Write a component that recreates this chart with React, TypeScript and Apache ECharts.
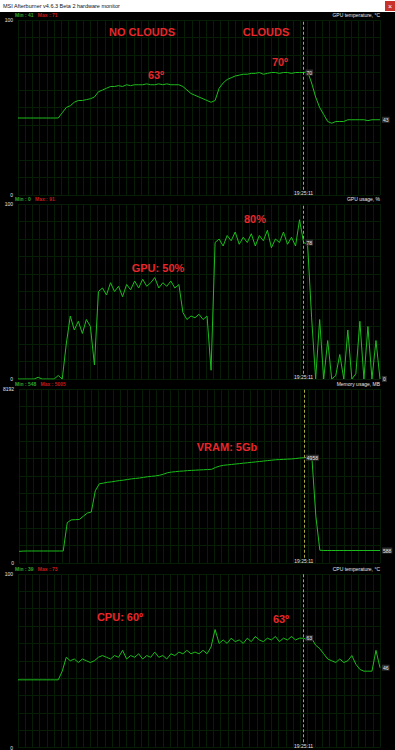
import React, { useEffect, useRef } from "react";
import * as echarts from "echarts";

// ---- data (one sample every ~4 px of the original monitor strip) ----
const gpuTemp = [
  44, 44, 44, 44, 44, 44, 44, 44, 44, 44, 44,
  47, 50, 51, 53, 54, 54, 54.5, 55, 56, 59,
  60, 61, 62, 62, 62.5, 62, 63, 62.5, 63, 63,
  63, 63.5, 63, 63, 63.5, 63, 63.5, 63, 63, 63,
  62, 60, 58, 57, 56, 55, 54, 53, 54, 61,
  64, 66, 67, 68, 68.5, 69, 69, 69.5, 69.5, 70,
  69, 69.5, 70, 70, 69.5, 70, 70, 69.5, 70, 70,
  70, 70.5, 64, 56, 50, 46, 42, 41, 42, 42,
  42, 43, 43, 43, 43, 43, 42.5, 43, 43, 43,
];
const gpuUsage = [
  0, 0, 0, 0, 0, 1, 0, 0, 0, 0, 2, 0,
  20, 36, 28, 33, 26, 34, 30, 8, 50,
  52, 48, 55, 50, 53, 47, 54, 51, 56, 52,
  57, 53, 55, 58, 52, 55, 53, 56, 52, 54,
  38, 34, 36, 35, 37, 34, 36, 5,
  78, 80, 76, 82, 79, 84, 77, 81, 78, 83, 76, 82,
  79, 85, 75, 80, 78, 84, 77, 81, 76, 91,
  78, 77, 35, 0, 34, 0, 22, 0, 2, 14,
  0, 28, 0, 3, 33, 0, 30, 0, 22, 0,
];
const memUsage = [
  548, 560, 565, 565, 565, 565, 565, 565, 565, 565, 565, 565,
  1900, 2030, 2040, 2050, 2200, 2350, 2400, 3400, 3730,
  3760, 3800, 3820, 3850, 3880, 3900, 3930, 3960, 3980, 4000,
  4030, 4060, 4080, 4100, 4130, 4180, 4250, 4280, 4300, 4320,
  4330, 4350, 4360, 4370, 4380, 4390, 4400, 4410, 4500, 4560,
  4600, 4620, 4640, 4660, 4680, 4700, 4720, 4740, 4760, 4780,
  4800, 4820, 4840, 4860, 4870, 4880, 4890, 4900, 4920, 4940,
  4958, 4980, 5005, 2200, 600, 588, 588, 588, 588, 588,
  588, 588, 588, 588, 588, 588, 588, 588, 588, 588,
];
const cpuTemp = [
  39, 39, 39, 39, 39, 39, 39, 39, 39, 39, 39,
  44, 52, 50, 51, 49, 51, 50, 49, 50, 52,
  53, 52, 51, 53, 52, 56, 51, 53, 52, 54,
  51, 53, 52, 55, 52, 53, 51, 54, 53, 55,
  54, 56, 54, 55, 54, 56, 54, 58, 68, 60,
  62, 60, 63, 61, 62, 60, 63, 61, 64, 62,
  61, 63, 62, 64, 61, 63, 62, 64, 62, 63,
  63, 62, 63, 59, 57, 54, 51, 50, 49, 51,
  49, 50, 53, 48, 45, 44, 44, 44, 56, 46,
];

const panelNames = ["GPU temperature, °C", "GPU usage, %", "Memory usage, MB", "CPU temperature, °C"];
const panelMins = [41, 0, 548, 39];
const panelMaxs = [71, 91, 5005, 73];
const axisMaxs = [100, 100, 8192, 100];
const seriesValues = [gpuTemp, gpuUsage, memUsage, cpuTemp];
const markerIndex = 71; // sample under the dashed time cursor
const markerTime = "19:25:11";
const windowTitle = "MSI Afterburner v4.6.3 Beta 2 hardware monitor";

const annotations = [
  { text: "NO CLOUDS", x: 142, y: 32 },
  { text: "CLOUDS", x: 266, y: 32 },
  { text: "63º", x: 156, y: 75 },
  { text: "70º", x: 280, y: 62 },
  { text: "80%", x: 255, y: 219 },
  { text: "GPU: 50%", x: 158, y: 268 },
  { text: "VRAM: 5Gb", x: 227, y: 447 },
  { text: "CPU: 60º", x: 120, y: 617 },
  { text: "63º", x: 281, y: 619 },
];

// ---- layout ----
const W = 395;
const H = 750;
const panelTops = [20, 204, 389, 574];
const panelHeights = [175, 175, 174, 174];
const FONT = "'Liberation Sans', Arial, sans-serif";
const GRID_COLOR = "#061d06";
const LINE_COLOR = "#1cbc1c";
const RED = "#e8262b";

export default function App() {
  const ref = useRef<HTMLDivElement>(null);

  useEffect(() => {
    if (!ref.current) return;
    const chart = echarts.init(ref.current, undefined, { renderer: "svg" });
    const last = gpuTemp.length - 1;

    const grid = panelTops.map((top, k) => ({
      left: 18,
      right: 15,
      top,
      height: panelHeights[k],
    }));

    const xAxis = panelTops.map((_, k) => ({
      type: "value",
      gridIndex: k,
      min: 0,
      max: last,
      interval: 1.8,
      axisLine: { show: false },
      axisTick: { show: false },
      axisLabel: { show: false },
      splitLine: { show: true, lineStyle: { color: GRID_COLOR, width: 1 } },
    }));

    const yAxis = axisMaxs.map((max, k) => ({
      type: "value",
      gridIndex: k,
      min: 0,
      max,
      interval: max / 10,
      axisLine: { show: false },
      axisTick: { show: false },
      splitLine: { show: true, lineStyle: { color: GRID_COLOR, width: 1 } },
      axisLabel: {
        color: "#e4e4e4",
        fontSize: 5,
        fontFamily: FONT,
        margin: 5,
        showMinLabel: true,
        showMaxLabel: true,
        formatter: (v: number) => (v === 0 ? "0" : Math.abs(v - max) < 1e-6 ? String(max) : ""),
      },
    }));

    const valueLabel = {
      show: true,
      position: "right",
      distance: 2,
      color: "#e8e8e8",
      backgroundColor: "#2e2e2e",
      padding: [1, 1, 0, 1],
      fontSize: 5,
      fontFamily: FONT,
      formatter: (p: any) => String(Math.round(p.value)),
    };

    const series = seriesValues.map((vals, k) => ({
      type: "line",
      xAxisIndex: k,
      yAxisIndex: k,
      data: vals.map((v, i) => [i, v]),
      showSymbol: false,
      symbol: "none",
      lineStyle: { color: LINE_COLOR, width: 1 },
      silent: true,
      markLine: {
        silent: true,
        symbol: ["none", "none"],
        lineStyle: { color: "#a8a83c", type: [3, 2], width: 1 },
        label: {
          show: true,
          position: "start",
          distance: 1,
          formatter: markerTime,
          color: "#e4e4e4",
          fontSize: 5,
          fontFamily: FONT,
        },
        data: [
          [
            { coord: [markerIndex, axisMaxs[k] * 0.03] },
            { coord: [markerIndex, axisMaxs[k]] },
          ],
        ],
      },
      markPoint: {
        silent: true,
        symbol: "circle",
        symbolSize: 0,
        label: valueLabel,
        data: [
          { coord: [markerIndex, vals[markerIndex]], value: vals[markerIndex] },
          { coord: [last, vals[last]], value: vals[last] },
        ],
      },
    }));

    const title: any[] = [];
    panelTops.forEach((top, k) => {
      title.push({
        left: 15,
        top: top - 8,
        padding: 0,
        text: `{g|Min : ${panelMins[k]}}   {r|Max : ${panelMaxs[k]}}`,
        textStyle: {
          fontSize: 5,
          fontFamily: FONT,
          rich: {
            g: { color: "#2fa82f", fontSize: 5, fontFamily: FONT },
            r: { color: "#c41a1a", fontSize: 5, fontFamily: FONT },
          },
        },
      });
      title.push({
        right: 15,
        top: top - 8,
        padding: 0,
        text: panelNames[k],
        textStyle: { color: "#e8e8e8", fontSize: 5, fontWeight: "normal", fontFamily: FONT },
      });
    });

    const graphic: any[] = [
      { type: "rect", shape: { x: 0, y: 0, width: W, height: 12 }, style: { fill: "#ffffff" } },
      {
        type: "text",
        x: 3,
        y: 6,
        style: {
          text: windowTitle,
          fill: "#111111",
          font: `5.5px ${FONT}`,
          verticalAlign: "middle",
          textVerticalAlign: "middle",
        },
      },
      { type: "rect", shape: { x: 385, y: 1, width: 10, height: 10 }, style: { fill: "#c8322a" } },
      {
        type: "text",
        x: 390,
        y: 6,
        style: {
          text: "×",
          fill: "#ffffff",
          font: `7px ${FONT}`,
          align: "center",
          textAlign: "center",
          verticalAlign: "middle",
          textVerticalAlign: "middle",
        },
      },
      ...annotations.map((a) => ({
        type: "text",
        x: a.x,
        y: a.y,
        z: 10,
        style: {
          text: a.text,
          fill: RED,
          font: `bold 11px ${FONT}`,
          align: "center",
          textAlign: "center",
          verticalAlign: "middle",
          textVerticalAlign: "middle",
        },
      })),
    ];

    chart.setOption({
      animation: false,
      backgroundColor: "#000000",
      title,
      grid,
      xAxis,
      yAxis,
      series,
      graphic,
    });

    return () => chart.dispose();
  }, []);

  return (
    <div
      ref={ref}
      style={{ position: "absolute", left: 0, top: 0, width: W, height: H }}
    />
  );
}
